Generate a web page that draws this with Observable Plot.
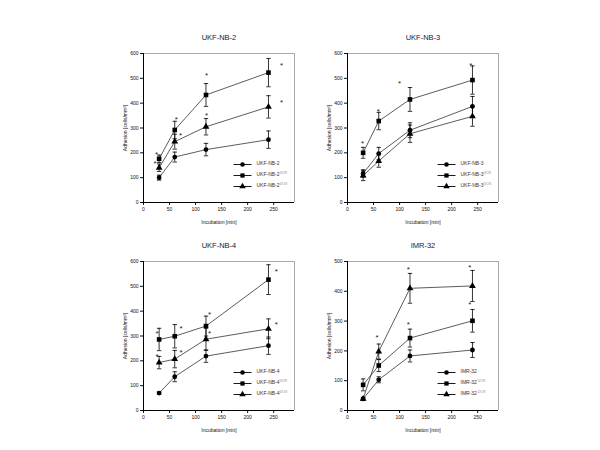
<!DOCTYPE html>
<html><head><meta charset="utf-8">
<script src="https://cdn.jsdelivr.net/npm/d3@7"></script>
<script src="https://cdn.jsdelivr.net/npm/@observablehq/plot@0.6"></script>
<style>
body{margin:0;background:#fff;}
#root{position:relative;width:600px;height:450px;overflow:hidden;background:#fff;}
.panel{position:absolute;}
</style></head><body><div id="root"></div>
<script>
// ---- data ----
const times = [30, 60, 120, 240];
const xTicks = [0, 50, 100, 150, 200, 250];
const yTicks600 = [0, 100, 200, 300, 400, 500, 600];
const yTicks500 = [0, 100, 200, 300, 400, 500];

const titles = ["UKF-NB-2", "UKF-NB-3", "UKF-NB-4", "IMR-32"];
const legendSup = ["", "VCR", "DOX"];

// UKF-NB-2
const nb2Parent = [100, 183, 213, 253];
const nb2ParentErr = [10, 20, 25, 35];
const nb2Vcr = [176, 292, 433, 523];
const nb2VcrErr = [15, 35, 46, 57];
const nb2Dox = [140, 245, 305, 385];
const nb2DoxErr = [15, 30, 33, 45];
const nb2StarX = [25, 22, 63, 71, 121, 121, 265, 265];
const nb2StarY = [203, 167, 341, 280, 521, 357, 561, 413];

// UKF-NB-3
const nb3Parent = [117, 197, 291, 387];
const nb3ParentErr = [15, 25, 30, 40];
const nb3Vcr = [200, 328, 415, 493];
const nb3VcrErr = [22, 35, 48, 57];
const nb3Dox = [108, 167, 277, 347];
const nb3DoxErr = [20, 25, 35, 40];
const nb3StarX = [29, 59, 100, 237];
const nb3StarY = [244, 373, 487, 561];

// UKF-NB-4
const nb4Parent = [70, 136, 219, 261];
const nb4ParentErr = [5, 20, 25, 35];
const nb4Vcr = [286, 299, 340, 527];
const nb4VcrErr = [45, 47, 40, 60];
const nb4Dox = [193, 207, 287, 329];
const nb4DoxErr = [25, 35, 45, 40];
const nb4StarX = [26, 26, 72, 72, 127, 127, 255, 255];
const nb4StarY = [320, 226, 340, 243, 395, 320, 570, 356];

// IMR-32
const imrParent = [39, 103, 183, 203];
const imrParentErr = [5, 10, 20, 25];
const imrVcr = [86, 151, 243, 301];
const imrVcrErr = [20, 20, 30, 38];
const imrDox = [39, 198, 410, 418];
const imrDoxErr = [5, 25, 50, 52];
const imrStarX = [57, 117, 117, 235, 235];
const imrStarY = [252, 480, 296, 488, 362];

// ---- drawing ----
const symbols = ["circle", "square", "triangle"];
const capSymbol = {draw(ctx) { ctx.moveTo(-2.2, 0); ctx.lineTo(2.2, 0); }};
const legLine = {draw(ctx) { ctx.moveTo(-9, 0); ctx.lineTo(9, 0); }};
const FONT = "'Liberation Sans', Arial, sans-serif";

function panel(cfg) {
  const {title, series, errs, starX, starY, yMax, yTicks, left, top} = cfg;
  const marks = [];
  marks.push(Plot.ruleY([yMax], {stroke: "#aaa", strokeWidth: 1}));
  marks.push(Plot.ruleX([290], {stroke: "#aaa", strokeWidth: 1}));
  marks.push(Plot.ruleX([0], {stroke: "#000", strokeWidth: 1}));
  marks.push(Plot.ruleY([0], {stroke: "#000", strokeWidth: 1}));
  series.forEach((vals, s) => {
    const rows = vals.map((v, i) => ({x: times[i], y: v, e: errs[s][i]}));
    marks.push(Plot.line(rows, {x: "x", y: "y", stroke: "#333", strokeWidth: 0.8}));
    marks.push(Plot.ruleX(rows, {x: "x", y1: d => d.y - d.e, y2: d => d.y + d.e, stroke: "#000", strokeWidth: 0.8}));
    marks.push(Plot.dot(rows, {x: "x", y: d => d.y + d.e, symbol: capSymbol, stroke: "#000", strokeWidth: 0.8, fill: "none"}));
    marks.push(Plot.dot(rows, {x: "x", y: d => d.y - d.e, symbol: capSymbol, stroke: "#000", strokeWidth: 0.8, fill: "none"}));
    marks.push(Plot.dot(rows, {x: "x", y: "y", symbol: symbols[s], fill: "#000", stroke: "none", r: s === 0 ? 2.4 : s === 1 ? 2.6 : 2.5}));
  });
  const stars = starX.map((x, i) => ({x, y: starY[i]}));
  marks.push(Plot.text(stars, {x: "x", y: "y", text: () => "*", fontSize: 8, dy: 2, fill: "#222"}));
  marks.push(Plot.text([title], {frameAnchor: "top", dy: -19, text: d => d, fontSize: 7.5, fill: "#222"}));
  const rowDy = [-38, -27, -16];
  symbols.forEach((sym, s) => {
    marks.push(Plot.dot([0], {frameAnchor: "bottom-right", dx: -52, dy: rowDy[s], symbol: legLine, stroke: "#000", strokeWidth: 0.9, fill: "none"}));
    marks.push(Plot.dot([0], {frameAnchor: "bottom-right", dx: -52, dy: rowDy[s], symbol: sym, fill: "#000", stroke: "none", r: s === 0 ? 2.3 : 2.4}));
    marks.push(Plot.text([title], {frameAnchor: "bottom-right", dx: -38, dy: rowDy[s], text: d => d, textAnchor: "start", fontSize: 5, fill: "#333"}));
    if (legendSup[s]) {
      marks.push(Plot.text([legendSup[s]], {frameAnchor: "bottom-right", dx: -38 + title.length * 2.9, dy: rowDy[s] - 2, text: d => d, textAnchor: "start", fontSize: 3.5, fill: "#888"}));
    }
  });
  const chart = Plot.plot({
    width: 209, height: 209,
    marginLeft: 50, marginRight: 8, marginTop: 30, marginBottom: 30,
    style: {fontSize: "5px", fontFamily: FONT, background: "transparent", overflow: "visible", color: "#111"},
    x: {domain: [0, 290], ticks: xTicks, tickSize: 3, tickPadding: 2, label: "Incubation [min]", labelAnchor: "center", labelOffset: 21, labelArrow: false},
    y: {domain: [0, yMax], ticks: yTicks, tickSize: 3, tickPadding: 2, label: "Adhesion [cells/mm²]", labelAnchor: "center", labelOffset: 20, labelArrow: false},
    marks
  });
  const wrap = document.createElement("div");
  wrap.className = "panel";
  wrap.style.left = left + "px";
  wrap.style.top = top + "px";
  wrap.appendChild(chart);
  document.getElementById("root").appendChild(wrap);
}

panel({title: titles[0], series: [nb2Parent, nb2Vcr, nb2Dox], errs: [nb2ParentErr, nb2VcrErr, nb2DoxErr],
  starX: nb2StarX, starY: nb2StarY, yMax: 600, yTicks: yTicks600, left: 93, top: 23});
panel({title: titles[1], series: [nb3Parent, nb3Vcr, nb3Dox], errs: [nb3ParentErr, nb3VcrErr, nb3DoxErr],
  starX: nb3StarX, starY: nb3StarY, yMax: 600, yTicks: yTicks600, left: 297, top: 23});
panel({title: titles[2], series: [nb4Parent, nb4Vcr, nb4Dox], errs: [nb4ParentErr, nb4VcrErr, nb4DoxErr],
  starX: nb4StarX, starY: nb4StarY, yMax: 600, yTicks: yTicks600, left: 93, top: 231});
panel({title: titles[3], series: [imrParent, imrVcr, imrDox], errs: [imrParentErr, imrVcrErr, imrDoxErr],
  starX: imrStarX, starY: imrStarY, yMax: 500, yTicks: yTicks500, left: 297, top: 231});
</script>
</body></html>
